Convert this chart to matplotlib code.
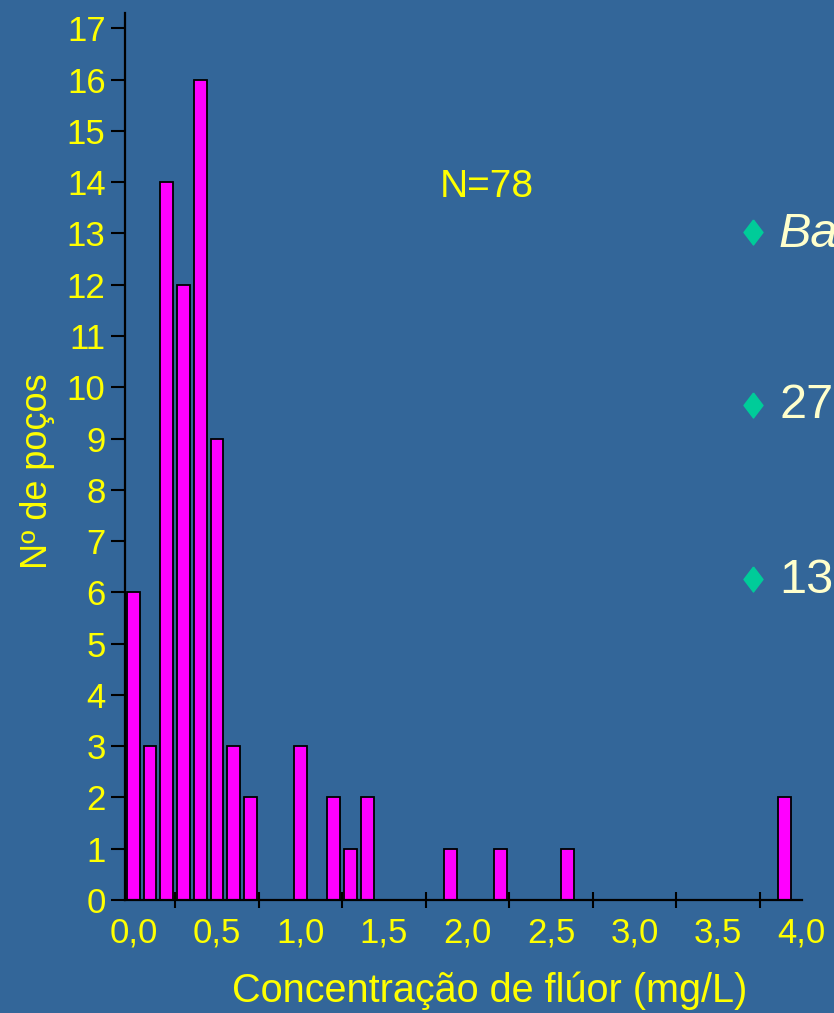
import matplotlib
matplotlib.use('Agg')
import matplotlib.pyplot as plt

# Fluoride concentration classes (mg/L, class centre) and number of wells
conc = [0.0, 0.1, 0.2, 0.3, 0.4, 0.5, 0.6, 0.7, 1.0, 1.2, 1.3, 1.4, 1.9, 2.2, 2.6, 3.9]
counts = [6, 3, 14, 12, 16, 9, 3, 2, 3, 2, 1, 2, 1, 1, 1, 2]

x_labels = ['0,0', '0,5', '1,0', '1,5', '2,0', '2,5', '3,0', '3,5', '4,0']
x_label_pos = [0.0, 0.5, 1.0, 1.5, 2.0, 2.5, 3.0, 3.5, 4.0]
x_tick_marks = [0.25, 0.75, 1.25, 1.75, 2.25, 2.75, 3.25, 3.75]
y_ticks = list(range(0, 18))

bullet_texts = ['Ba', '27', '13']
bullet_italic = [True, False, False]

bg = '#336699'
yellow = '#FFFF00'
cream = '#FFFFCC'

plt.rcParams['font.family'] = ['Liberation Sans', 'DejaVu Sans']

fig = plt.figure(figsize=(8.34, 10.13), dpi=100)
fig.patch.set_facecolor(bg)
ax = fig.add_axes([125 / 834, 1 - 900 / 1013, 676.5 / 834, 887 / 1013])
ax.set_facecolor(bg)

ax.bar(conc, counts, width=0.076, color='#FF00FF', edgecolor='black', linewidth=1.3, zorder=3)

ax.set_xlim(-0.05, 4.0)
ax.set_ylim(0, 17.3)

for s in ['top', 'right']:
    ax.spines[s].set_visible(False)
for s in ['left', 'bottom']:
    ax.spines[s].set_color('black')
    ax.spines[s].set_linewidth(1.6)
    ax.spines[s].set_zorder(4)

ax.set_yticks(y_ticks)
ax.set_yticklabels([str(v) for v in y_ticks])
ax.tick_params(axis='y', direction='out', length=10, width=1.5, color='black',
               labelsize=25, labelcolor=yellow, pad=4)

ax.set_xticks(x_label_pos)
ax.set_xticklabels(x_labels)
ax.set_xticks(x_tick_marks, minor=True)
ax.tick_params(axis='x', which='major', length=0, labelsize=25, labelcolor=yellow, pad=12)
ax.tick_params(axis='x', which='minor', direction='inout', length=11, width=1.5, color='black')

fig.text(490 / 834, 1 - 1002 / 1013, 'Concentração de flúor (mg/L)', color=yellow,
         fontsize=28.5, ha='center', va='baseline')
fig.text(38 / 834, 1 - 471 / 1013, 'Nº de poços', color=yellow, fontsize=26,
         rotation=90, ha='center', va='center')
fig.text(440 / 834, 1 - 197 / 1013, 'N=78', color=yellow, fontsize=28,
         ha='left', va='baseline')

# bullet list on the right (cut off by the slide edge, as on the slide)
bullet_y = [232, 405, 579]
text_base = [247, 418, 593]
diamond = [(0, 1), (0.76, 0), (0, -1), (-0.76, 0), (0, 1)]
for i, txt in enumerate(bullet_texts):
    fig.add_artist(plt.Line2D([753 / 834], [1 - bullet_y[i] / 1013], marker=diamond,
                              markersize=18, color='#00CC99', linestyle='none',
                              transform=fig.transFigure))
    fig.text(779 / 834, 1 - text_base[i] / 1013, txt, color=cream, fontsize=35,
             style='italic' if bullet_italic[i] else 'normal', ha='left', va='baseline')

fig.savefig('out.png', dpi=100, facecolor=bg)
